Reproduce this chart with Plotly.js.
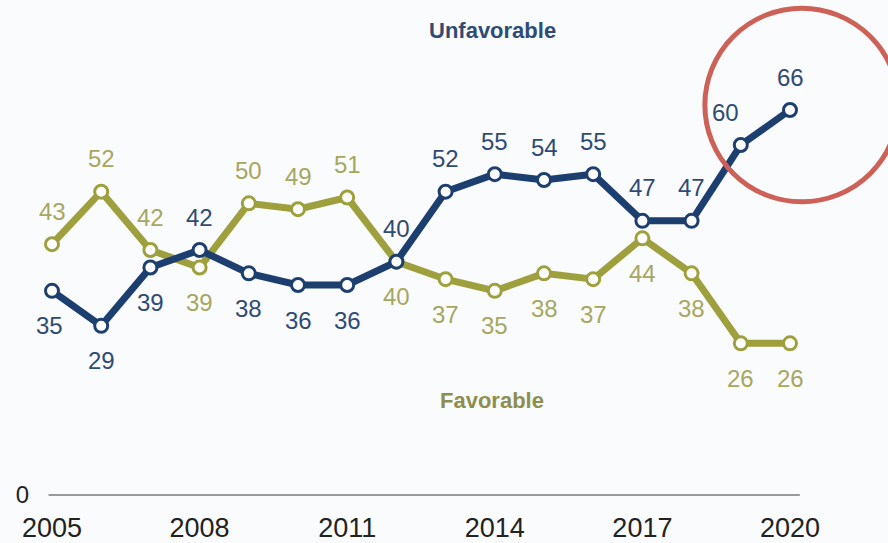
<!DOCTYPE html>
<html>
<head>
<meta charset="utf-8">
<script src="https://cdn.plot.ly/plotly-3.0.1.min.js"></script>
<style>html,body{margin:0;padding:0;background:#fafbfc;}#chart{width:888px;height:543px;}</style>
</head>
<body>
<div id="chart"></div>
<script>
const years = [2005,2006,2007,2008,2009,2010,2011,2012,2013,2014,2015,2016,2017,2018,2019,2020];
const unfavorable = [35,29,39,42,38,36,36,40,52,55,54,55,47,47,60,66];
const favorable   = [43,52,42,39,50,49,51,40,37,35,38,37,44,38,26,26];
// label placement: 1 = above, -1 = below
const unfavPos = [-1,-1,-1,1,-1,-1,-1,1,1,1,1,1,1,1,1,1];
const favPos   = [1,1,1,-1,1,1,1,-1,-1,-1,-1,-1,-1,-1,-1,-1];
const xTicks = [2005,2008,2011,2014,2017,2020];

const BLUE = '#1d3f6f', BLUE_TXT = '#2f4b73';
const OLIVE = '#9ea03e', OLIVE_TXT = '#a6a760';
const FONT = 'Liberation Sans, Arial, sans-serif';

function series(name, ys, color) {
  return {
    type: 'scatter', mode: 'lines+markers', name: name,
    x: years, y: ys,
    line: {color: color, width: 7},
    marker: {size: 13, color: '#ffffff', line: {color: color, width: 3}},
    cliponaxis: false, hoverinfo: 'x+y'
  };
}

const annotations = [];
function labels(ys, pos, color, xshiftFn) {
  ys.forEach((v, i) => {
    annotations.push({
      x: years[i], y: v, xref: 'x', yref: 'y', text: String(v), showarrow: false,
      yshift: pos[i] > 0 ? 33 : -35, xshift: xshiftFn ? xshiftFn(i) : 0,
      font: {family: FONT, size: 24, color: color}
    });
  });
}
labels(favorable, favPos, OLIVE_TXT);
labels(unfavorable, unfavPos, BLUE_TXT, i => (years[i] === 2019 ? -15 : (years[i] === 2005 ? -3 : 0)));

annotations.push({xref: 'paper', yref: 'paper', x: (492-30)/858, y: 1 - 30/501, yanchor: 'middle', xanchor: 'center',
  text: '<b>Unfavorable</b>', showarrow: false, font: {family: FONT, size: 22, color: '#2f4b73'}});
annotations.push({xref: 'paper', yref: 'paper', x: (492-30)/858, y: 1 - 400/501, yanchor: 'middle', xanchor: 'center',
  text: '<b>Favorable</b>', showarrow: false, font: {family: FONT, size: 22, color: '#8e8f4e'}});

const k = 49.2; // px per year
const ky = 5.833; // px per unit
const layout = {
  width: 888, height: 543,
  margin: {l: 30, r: 0, t: 0, b: 42, pad: 0},
  paper_bgcolor: '#fafbfc', plot_bgcolor: '#fafbfc',
  showlegend: false,
  xaxis: {
    range: [2005 - 22/k, 2005 + 836/k],
    tickvals: xTicks, ticktext: xTicks.map(String),
    showgrid: false, zeroline: false, showline: false, ticks: '',
    tickfont: {family: FONT, size: 27, color: '#222222'},
    ticklabelstandoff: 8, automargin: false
  },
  yaxis: {
    range: [-6/ky, 495/ky],
    tickvals: [0], ticktext: ['0'],
    showgrid: false, zeroline: false, showline: false, ticks: '',
    tickfont: {family: FONT, size: 24, color: '#222222'},
    automargin: false
  },
  shapes: [
    {type: 'line', xref: 'x', yref: 'y', x0: 2004.93, x1: 2020.2, y0: 0, y1: 0,
     line: {color: '#9a9a9a', width: 2}, layer: 'below'},
    {type: 'circle', xref: 'x', yref: 'y',
     x0: 2020.24 - 1.97, x1: 2020.24 + 1.97, y0: 66.86 - 16.6, y1: 66.86 + 16.6,
     line: {color: '#cd6158', width: 5}}
  ],
  annotations: annotations
};

Plotly.newPlot('chart', [series('Favorable', favorable, OLIVE), series('Unfavorable', unfavorable, BLUE)], layout, {displayModeBar: false, staticPlot: true});
</script>
</body>
</html>
